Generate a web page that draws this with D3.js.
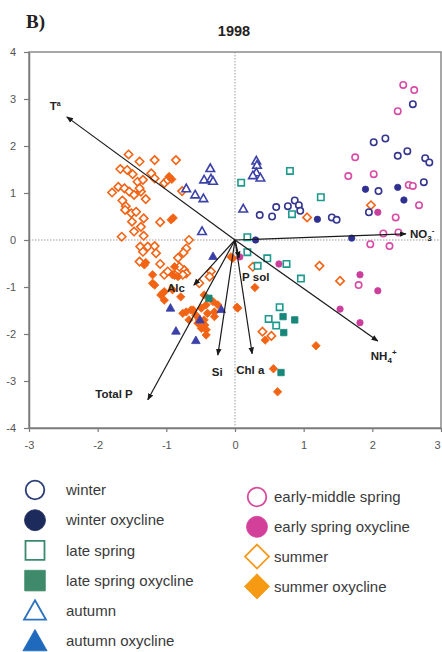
<!DOCTYPE html>
<html>
<head>
<meta charset="utf-8">
<script src="https://cdn.jsdelivr.net/npm/d3@7"></script>
<style>
  body { margin: 0; background: #fff; }
  svg { display: block; font-family: "Liberation Sans", Arial, sans-serif; }
</style>
</head>
<body>
<svg id="chart" width="442" height="652"></svg>
<script>
// ---- data -------------------------------------------------------------
const panelLabel = "B)";
const yearTitle = "1998";
const xTicks = [-3, -2, -1, 0, 1, 2, 3];
const yTicks = [-4, -3, -2, -1, 0, 1, 2, 3, 4];

// PCA scores per sample group [PC1, PC2]
const winter = [[2.59,2.89],[2.02,2.08],[2.19,2.16],[2.37,1.79],[2.51,1.89],[2.77,1.74],[2.83,1.65],[2.75,1.23],[2.09,1.04],[1.95,0.59],[0.87,0.84],[0.93,0.74],[0.77,0.72],[0.95,0.62],[0.60,0.70],[0.54,0.50],[0.36,0.53],[1.41,0.48],[1.48,0.43]];
const winterOxycline = [[1.90,1.08],[2.37,1.12],[2.46,0.85],[1.20,0.44],[1.70,0.04],[0.30,0.00]];
const lateSpring = [[0.80,1.47],[0.09,1.22],[1.25,0.91],[0.83,0.55],[0.18,0.06],[0.18,-0.26],[0.47,-0.39],[0.33,-0.55],[0.75,-0.51],[0.96,-0.82],[0.65,-1.43],[0.49,-1.68],[0.60,-1.82]];
const lateSpringOxycline = [[0.70,-1.63],[0.87,-1.70],[0.71,-1.97],[0.67,-2.82],[-0.38,-1.24]];
const autumn = [[-0.36,1.53],[-0.45,1.29],[-0.35,1.31],[-0.32,1.26],[-0.71,1.10],[-0.58,0.97],[-0.46,0.89],[-0.48,0.19],[0.31,1.69],[0.32,1.60],[0.31,1.44],[0.26,1.38],[0.37,1.33],[0.12,0.67]];
const autumnOxycline = [[-0.94,-1.44],[-0.86,-1.93],[-0.57,-2.13],[-0.51,-1.69],[-0.20,-1.47],[-0.32,-0.34]];
const earlyMiddleSpring = [[2.45,3.30],[2.61,3.19],[2.37,2.74],[1.75,1.76],[1.65,1.36],[2.02,1.40],[2.53,1.17],[2.59,1.15],[2.68,0.74],[2.34,0.48],[2.16,0.14],[2.38,0.16],[1.97,-0.09],[2.25,-0.13],[1.80,-0.96]];
const earlySpringOxycline = [[2.08,0.59],[0.64,-0.51],[1.82,-0.74],[2.08,-1.08],[1.53,-1.47],[1.82,-1.76],[0.07,-0.36]];
const summer = [[-1.55,1.82],[-1.39,1.67],[-1.17,1.70],[-0.86,1.70],[-1.67,1.51],[-1.57,1.49],[-1.49,1.40],[-1.22,1.42],[-1.17,1.31],[-1.42,1.24],[-1.34,1.28],[-1.03,1.21],[-0.98,1.28],[-1.79,1.01],[-1.70,1.13],[-1.61,1.10],[-1.54,1.03],[-1.47,0.96],[-1.37,1.03],[-1.30,0.87],[-1.39,1.10],[-0.77,1.04],[-1.64,0.84],[-1.59,0.72],[-1.60,0.64],[-1.51,0.57],[-1.44,0.60],[-1.50,0.39],[-1.33,0.46],[-1.09,0.38],[-1.37,0.28],[-1.47,0.18],[-1.65,0.07],[-1.33,0.09],[-0.67,0.00],[-1.38,-0.14],[-1.27,-0.14],[-1.17,-0.13],[-0.71,-0.18],[-1.34,-0.25],[-1.15,-0.28],[-0.75,-0.27],[-0.83,-0.38],[-1.39,-0.46],[-1.09,-0.51],[-0.74,-0.64],[-0.81,-0.57],[-0.71,-0.71],[-0.35,-0.67],[-0.37,-0.78],[-0.52,-0.92],[-1.03,-0.74],[-0.88,-0.74],[-0.76,-0.74],[-0.98,-0.67],[1.23,-0.55],[1.53,-0.87],[1.98,0.74],[1.05,0.48],[0.26,-0.57],[0.40,-1.95],[0.53,-2.04]];
const summerOxycline = [[-0.96,1.35],[-0.92,1.29],[-0.93,0.43],[-0.90,0.47],[-1.30,-0.48],[-0.88,-0.57],[-0.91,-0.74],[-0.83,-0.78],[-0.45,-1.17],[-0.32,-1.31],[-0.42,-1.38],[-0.49,-1.45],[-0.71,-1.53],[-0.64,-1.49],[-0.57,-1.60],[-0.52,-1.70],[-0.45,-1.70],[-0.30,-1.53],[-0.25,-1.38],[0.04,-1.45],[-0.42,-1.91],[-0.03,-0.39],[-1.20,-0.74],[-1.17,-0.96],[-1.03,-1.10],[-1.08,-1.17],[-0.91,-1.06],[-1.03,-1.28],[-0.79,-1.21],[-0.61,-1.49],[-0.76,-1.56],[-0.67,-1.70],[-0.54,-1.77],[-0.44,-1.81],[-0.49,-1.88],[-0.42,-2.02],[-0.30,-1.63],[-0.40,-1.56],[-1.32,-0.53],[-1.20,-0.92],[-1.05,-1.13],[0.29,-1.01],[0.03,-1.43],[0.44,-2.13],[1.18,-2.25],[0.56,-2.74],[0.62,-3.23],[-0.06,-0.36]];

// variable loadings (arrow tips)
const loadingNames = ["Tª", "NO3", "NH4", "Total P", "Alc", "Si", "Chl a", "P sol"];
const loadingX = [-2.45, 2.49, 2.08, -1.27, -0.60, -0.25, 0.25, 0.06];
const loadingY = [2.62, 0.13, -2.15, -3.40, -0.96, -2.45, -2.42, -0.38];

const legendLeft = ["winter", "winter oxycline", "late spring", "late spring oxycline", "autumn", "autumn oxycline"];
const legendRight = ["early-middle spring", "early spring oxycline", "summer", "summer oxycline"];

// ---- styling ------------------------------------------------------------
const groups = [
  { data: summer, shape: "diamond", filled: false, color: "#f26414", key: "summer" },
  { data: summerOxycline, shape: "diamond", filled: true, color: "#f26414", key: "summer oxycline" },
  { data: winter, shape: "circle", filled: false, color: "#35368f", key: "winter" },
  { data: winterOxycline, shape: "circle", filled: true, color: "#2f3190", key: "winter oxycline" },
  { data: lateSpring, shape: "square", filled: false, color: "#1c9a8d", key: "late spring" },
  { data: lateSpringOxycline, shape: "square", filled: true, color: "#17877a", key: "late spring oxycline" },
  { data: autumn, shape: "triangle", filled: false, color: "#3c41a8", key: "autumn" },
  { data: autumnOxycline, shape: "triangle", filled: true, color: "#3a40a8", key: "autumn oxycline" },
  { data: earlyMiddleSpring, shape: "circle", filled: false, color: "#d94ca6", key: "early-middle spring" },
  { data: earlySpringOxycline, shape: "circle", filled: true, color: "#cc3e9c", key: "early spring oxycline" }
];
const legendStyle = {
  "winter": { shape: "circle", filled: false, color: "#2b3d76" },
  "winter oxycline": { shape: "circle", filled: true, color: "#1d2b5c" },
  "late spring": { shape: "square", filled: false, color: "#3b8a6d" },
  "late spring oxycline": { shape: "square", filled: true, color: "#3e8a6b" },
  "autumn": { shape: "triangle", filled: false, color: "#2b72c0" },
  "autumn oxycline": { shape: "triangle", filled: true, color: "#1f6abd" },
  "early-middle spring": { shape: "circle", filled: false, color: "#d84a9c" },
  "early spring oxycline": { shape: "circle", filled: true, color: "#d3409a" },
  "summer": { shape: "diamond", filled: false, color: "#f39a1a" },
  "summer oxycline": { shape: "diamond", filled: true, color: "#f59a12" }
};

// shape path generator, s = nominal half-size
function shapePath(shape, s) {
  if (shape === "circle") {
    return `M${-s},0A${s},${s} 0 1,0 ${s},0A${s},${s} 0 1,0 ${-s},0Z`;
  }
  if (shape === "square") {
    return `M${-s},${-s}H${s}V${s}H${-s}Z`;
  }
  if (shape === "triangle") {
    const h = s * 1.05;
    return `M0,${-h}L${s * 1.1},${h * 0.85}H${-s * 1.1}Z`;
  }
  // diamond (square rotated 45deg)
  const d = s * 1.2;
  return `M0,${-d}L${d},0L0,${d}L${-d},0Z`;
}

// ---- chart -----------------------------------------------------------------
const svg = d3.select("#chart");
const x = d3.scaleLinear().domain([-3, 3]).range([29, 441]);
const y = d3.scaleLinear().domain([-4, 4]).range([428, 52]);

svg.append("text").attr("x", 26).attr("y", 28)
  .attr("font-family", "'Liberation Serif', 'Times New Roman', serif")
  .attr("font-weight", "bold").attr("font-size", 19).attr("fill", "#222")
  .text(panelLabel);

svg.append("text").attr("x", 234).attr("y", 36).attr("text-anchor", "middle")
  .attr("font-weight", "bold").attr("font-size", 14.5).attr("fill", "#222")
  .text(yearTitle);

// frame
svg.append("rect")
  .attr("x", x(-3)).attr("y", y(4))
  .attr("width", x(3) - x(-3)).attr("height", y(-4) - y(4))
  .attr("fill", "none").attr("stroke", "#8a8a8a").attr("stroke-width", 1.5);

// zero reference lines
svg.append("line").attr("x1", x(-3)).attr("x2", x(3)).attr("y1", y(0)).attr("y2", y(0))
  .attr("stroke", "#9a9a9a").attr("stroke-width", 1).attr("stroke-dasharray", "1.5,1.5");
svg.append("line").attr("x1", x(0)).attr("x2", x(0)).attr("y1", y(4)).attr("y2", y(-4))
  .attr("stroke", "#9a9a9a").attr("stroke-width", 1).attr("stroke-dasharray", "1.5,1.5");

// axes
const xAxis = svg.append("g").attr("transform", `translate(0,${y(-4)})`)
  .call(d3.axisBottom(x).tickValues(xTicks).tickSize(4).tickSizeOuter(0).tickPadding(9)
    .tickFormat(d3.format("d")));
const yAxis = svg.append("g").attr("transform", `translate(${x(-3)},0)`)
  .call(d3.axisLeft(y).tickValues(yTicks).tickSize(5).tickSizeOuter(0).tickPadding(8)
    .tickFormat(d3.format("d")));
[xAxis, yAxis].forEach(g => {
  g.select(".domain").attr("stroke", "#7a7a7a").attr("stroke-width", 1.5);
  g.selectAll(".tick line").attr("stroke", "#7a7a7a").attr("stroke-width", 1.2);
  g.selectAll(".tick text").attr("fill", "#555").attr("font-size", 11)
    .attr("font-family", "'Liberation Sans', Arial, sans-serif");
});
xAxis.selectAll(".tick text").text(d => d < 0 ? "-" + Math.abs(d) : d);
yAxis.selectAll(".tick text").text(d => d < 0 ? "-" + Math.abs(d) : d);
// keep the last x label inside the page edge
xAxis.selectAll(".tick text").filter(d => d === 3).attr("text-anchor", "end").attr("dx", -1);

// sample points
const pointSize = { circle: 3.2, square: 3.2, triangle: 3.9, diamond: 3.5 };
groups.forEach(gp => {
  svg.append("g").selectAll("path").data(gp.data).join("path")
    .attr("transform", d => `translate(${x(d[0])},${y(d[1])})`)
    .attr("d", shapePath(gp.shape, pointSize[gp.shape]))
    .attr("fill", gp.filled ? gp.color : "#fff")
    .attr("stroke", gp.color)
    .attr("stroke-width", gp.filled ? 0.8 : 1.6);
});

// loading arrows
svg.append("defs").append("marker")
  .attr("id", "arrowhead").attr("viewBox", "0 0 10 10")
  .attr("refX", 9).attr("refY", 5)
  .attr("markerWidth", 7).attr("markerHeight", 7)
  .attr("markerUnits", "userSpaceOnUse")
  .attr("orient", "auto")
  .append("path").attr("d", "M0,1L10,5L0,9Z").attr("fill", "#1a1a1a");

const loadings = loadingNames.map((n, i) => ({ name: n, lx: loadingX[i], ly: loadingY[i] }));
svg.append("g").selectAll("line").data(loadings).join("line")
  .attr("x1", x(0)).attr("y1", y(0))
  .attr("x2", d => x(d.lx)).attr("y2", d => y(d.ly))
  .attr("stroke", "#1a1a1a").attr("stroke-width", 1.2)
  .attr("marker-end", "url(#arrowhead)");

// label offsets from arrow tips
const labelOffset = {
  "Tª": [-17, -7, "start"],
  "NO3": [4, 4, "start"],
  "NH4": [-7, 19, "start"],
  "Total P": [-15, -2, "end"],
  "Alc": [-9, 7, "end"],
  "Si": [-6, 21, "start"],
  "Chl a": [-16, 20, "start"],
  "P sol": [3, 23, "start"]
};
const labels = svg.append("g").attr("font-size", 11.5).attr("font-weight", "bold").attr("fill", "#222");
loadings.forEach(d => {
  const [dx, dy, anchor] = labelOffset[d.name];
  const t = labels.append("text")
    .attr("x", x(d.lx) + dx).attr("y", y(d.ly) + dy)
    .attr("text-anchor", anchor);
  if (d.name === "NO3" || d.name === "NH4") {
    t.append("tspan").text(d.name.slice(0, 2));
    t.append("tspan").attr("font-size", 8).attr("dy", 3).text(d.name.slice(2));
    t.append("tspan").attr("font-size", 8).attr("dy", -8).text(d.name === "NO3" ? "-" : "+");
  } else if (d.name === "Tª") {
    t.append("tspan").text("T");
    t.append("tspan").attr("font-size", 7).attr("dy", -4).text("a");
  } else {
    t.text(d.name);
  }
});

// ---- legend -------------------------------------------------------------
function legendColumn(names, cx, tx, y0, step) {
  names.forEach((n, i) => {
    const st = legendStyle[n];
    const cy = y0 + i * step;
    const s = st.shape === "circle" ? (st.filled ? 10.5 : 9.3)
            : st.shape === "square" ? (st.filled ? 10.3 : 9.5)
            : st.shape === "triangle" ? (st.filled ? 11 : 10)
            : (st.filled ? 10.5 : 10);
    svg.append("path")
      .attr("transform", `translate(${cx},${cy})`)
      .attr("d", shapePath(st.shape, s))
      .attr("fill", st.filled ? st.color : "#fff")
      .attr("stroke", st.color).attr("stroke-width", st.filled ? 0.8 : 1.8);
    svg.append("text").attr("x", tx).attr("y", cy).attr("dy", "0.35em")
      .attr("font-size", 15).attr("fill", "#3a3a3a").text(n);
  });
}
legendColumn(legendLeft, 35, 66, 490, 30.2);
legendColumn(legendRight, 257, 274, 497, 29.8);
</script>
</body>
</html>
